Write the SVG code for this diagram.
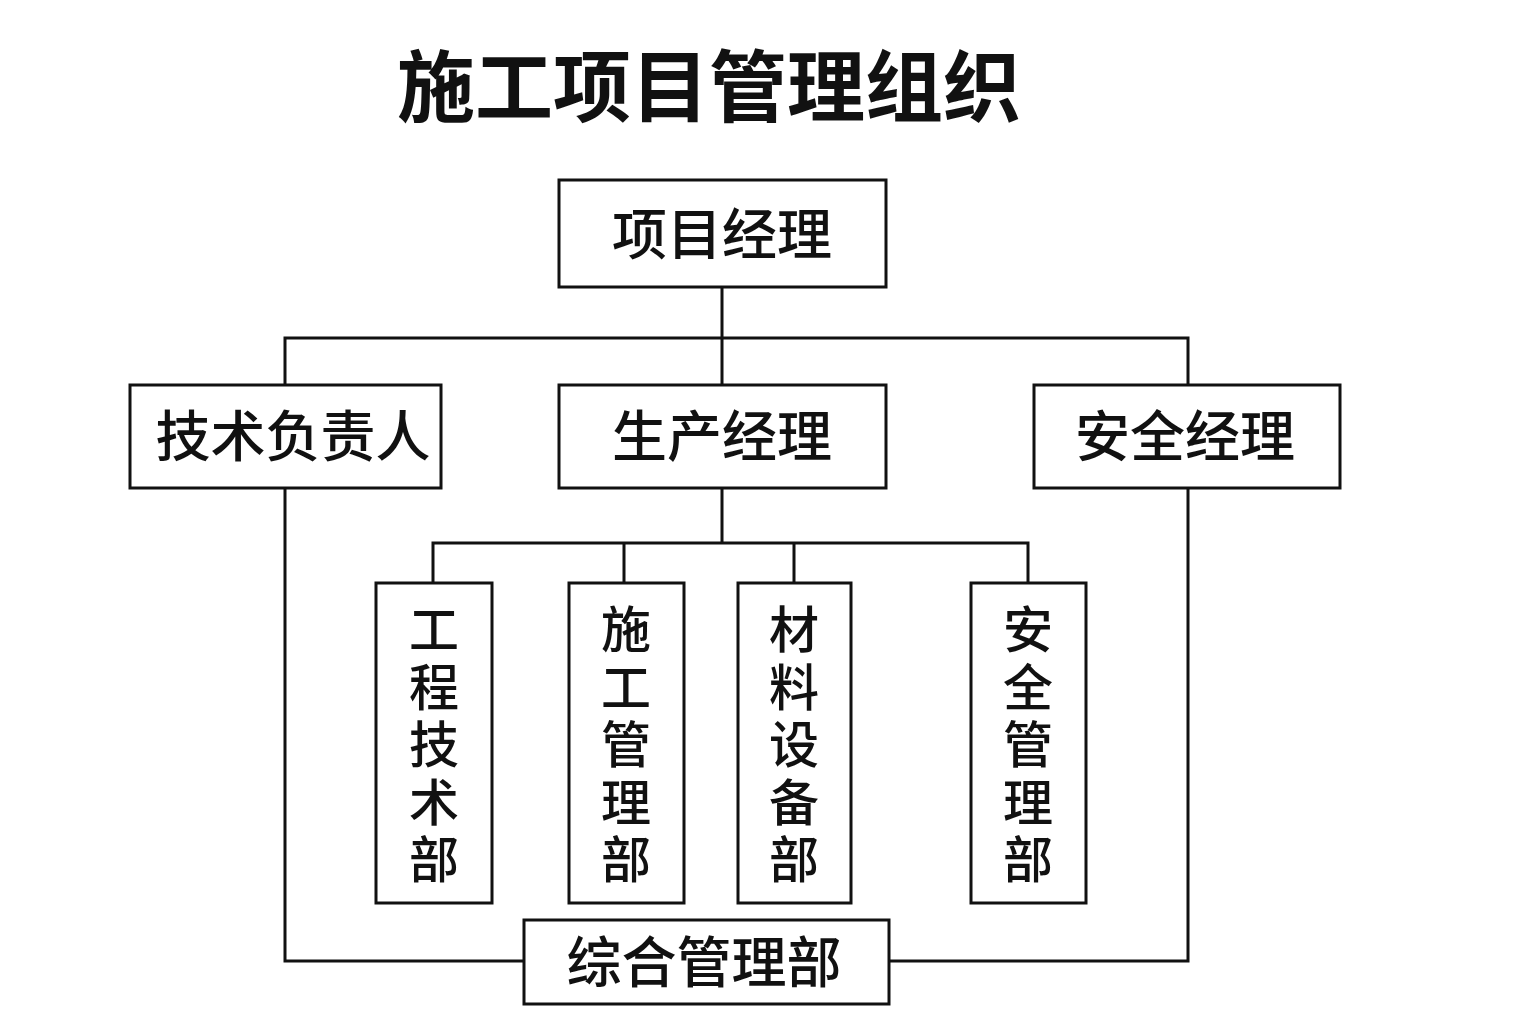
<svg xmlns="http://www.w3.org/2000/svg" width="1536" height="1024" viewBox="0 0 1536 1024">
<style>
rect{fill:#fff;stroke:#111;stroke-width:3}
.c path{fill:none;stroke:#111;stroke-width:3}
text{font-family:"Noto Sans CJK SC","Noto Sans",sans-serif;fill:#111;text-anchor:middle;font-weight:500}
.h{font-size:55px}
.v{font-size:50px}
</style>
<rect x="0" y="0" width="1536" height="1024" style="stroke:none"/>
<text x="709" y="116" style="font-size:78px;font-weight:700">施工项目管理组织</text>
<g class="c">
<path d="M722 287V385M285 385V338H1188V385M722 488V543M433 583V543H1028V583M624 543V583M794 543V583M285 488V961H524M1188 488V961H889"/>
</g>
<g id="pm"><rect x="559" y="180" width="327" height="107"/><text class="h" x="722" y="254">项目经理</text></g>
<g id="tech"><rect x="130" y="385" width="311" height="103"/><text class="h" x="293" y="456">技术负责人</text></g>
<g id="prod"><rect x="559" y="385" width="327" height="103"/><text class="h" x="722" y="456">生产经理</text></g>
<g id="safe"><rect x="1034" y="385" width="306" height="103"/><text class="h" x="1185" y="456">安全经理</text></g>
<g id="d1"><rect x="376" y="583" width="116" height="320"/><text class="v" x="434"><tspan x="434" y="648">工</tspan><tspan x="434" y="706">程</tspan><tspan x="434" y="763">技</tspan><tspan x="434" y="821">术</tspan><tspan x="434" y="878">部</tspan></text></g>
<g id="d2"><rect x="569" y="583" width="115" height="320"/><text class="v" x="626"><tspan x="626" y="648">施</tspan><tspan x="626" y="706">工</tspan><tspan x="626" y="763">管</tspan><tspan x="626" y="821">理</tspan><tspan x="626" y="878">部</tspan></text></g>
<g id="d3"><rect x="738" y="583" width="113" height="320"/><text class="v" x="794"><tspan x="794" y="648">材</tspan><tspan x="794" y="706">料</tspan><tspan x="794" y="763">设</tspan><tspan x="794" y="821">备</tspan><tspan x="794" y="878">部</tspan></text></g>
<g id="d4"><rect x="971" y="583" width="115" height="320"/><text class="v" x="1028"><tspan x="1028" y="648">安</tspan><tspan x="1028" y="706">全</tspan><tspan x="1028" y="763">管</tspan><tspan x="1028" y="821">理</tspan><tspan x="1028" y="878">部</tspan></text></g>
<g id="gen"><rect x="524" y="920" width="365" height="84"/><text class="h" x="704" y="982">综合管理部</text></g>
</svg>
